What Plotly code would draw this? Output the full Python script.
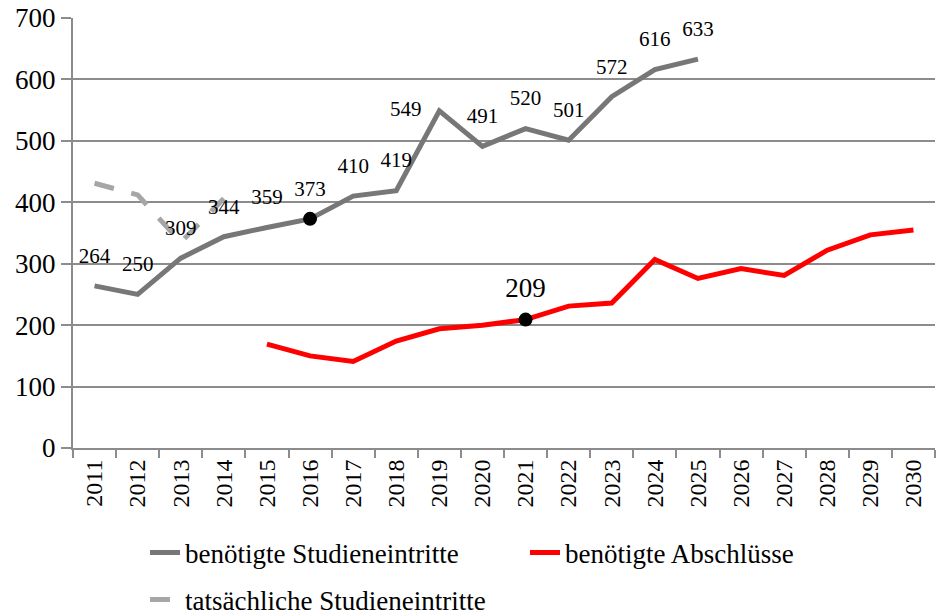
import plotly.graph_objects as go

years = [str(y) for y in range(2011, 2031)]

# benötigte Studieneintritte (2011-2025)
eintritte_years = [str(y) for y in range(2011, 2026)]
eintritte = [264, 250, 309, 344, 359, 373, 410, 419, 549, 491, 520, 501, 572, 616, 633]
eintritte_pos = ["top center"] * 8 + ["middle left"] + ["top center"] * 6

# benötigte Abschlüsse (2015-2030)
abschl_years = [str(y) for y in range(2015, 2031)]
abschluesse = [169, 150, 141, 174, 194, 200, 209, 231, 236, 307, 276, 292, 281, 322, 347, 355]
abschl_labels = ["" if y != "2021" else "209" for y in abschl_years]

# tatsächliche Studieneintritte (2011-2014)
tats_years = ["2011", "2012", "2013", "2014"]
tatsaechlich = [431, 412, 335, 406]

# highlighted points
hl_years = ["2016", "2021"]
hl_values = [373, 209]

FONT = "Liberation Serif, Times New Roman, serif"
GRAY = "#777777"
LIGHT = "#a6a6a6"
RED = "#ff0000"
AXIS = "#8c8c8c"

fig = go.Figure()

fig.add_trace(go.Scatter(
    x=tats_years, y=tatsaechlich, mode="lines",
    name="tatsächliche Studieneintritte",
    line=dict(color=LIGHT, width=5, dash="20px,18px"),
    legend="legend2",
))

fig.add_trace(go.Scatter(
    x=eintritte_years, y=eintritte, mode="lines+markers+text",
    name="benötigte Studieneintritte",
    line=dict(color=GRAY, width=5),
    marker=dict(size=27, color="rgba(0,0,0,0)"),
    text=[str(v) for v in eintritte], textposition=eintritte_pos,
    textfont=dict(family=FONT, size=21, color="black"),
    legend="legend",
))

fig.add_trace(go.Scatter(
    x=abschl_years, y=abschluesse, mode="lines+markers+text",
    name="benötigte Abschlüsse",
    line=dict(color=RED, width=5),
    marker=dict(size=23, color="rgba(0,0,0,0)"),
    text=abschl_labels, textposition="top center",
    textfont=dict(family=FONT, size=27, color="black"),
    legend="legend",
))

fig.add_trace(go.Scatter(
    x=hl_years, y=hl_values, mode="markers",
    marker=dict(size=14, color="black"),
    showlegend=False, hoverinfo="skip",
))

fig.update_layout(
    width=936, height=615,
    margin=dict(l=73, r=1, t=18, b=167, autoexpand=False),
    paper_bgcolor="white", plot_bgcolor="white",
    font=dict(family=FONT, color="black"),
    xaxis=dict(
        type="category", categoryorder="array", categoryarray=years,
        range=[-0.5, 19.5], automargin=False,
        showgrid=False, showline=True, linecolor=AXIS, linewidth=2,
        ticks="outside", tickson="boundaries", ticklen=8, tickcolor=AXIS, tickwidth=2,
        tickangle=-90, tickfont=dict(family=FONT, size=24, color="black"),
    ),
    yaxis=dict(
        range=[0, 700], tickvals=[0, 100, 200, 300, 400, 500, 600, 700],
        automargin=False,
        showgrid=True, gridcolor=AXIS, gridwidth=2,
        showline=True, linecolor=AXIS, linewidth=2,
        ticks="outside", ticklen=10, tickcolor=AXIS, tickwidth=2,
        tickfont=dict(family=FONT, size=27, color="black"),
        ticklabeloverflow="allow",
        zeroline=False,
    ),
    legend=dict(
        orientation="h", xref="container", yref="container",
        x=0.1549, y=0.1008, xanchor="left", yanchor="middle",
        font=dict(family=FONT, size=27, color="black"),
        entrywidth=335, entrywidthmode="pixels",
        bgcolor="rgba(0,0,0,0)",
    ),
    legend2=dict(
        orientation="h", xref="container", yref="container",
        x=0.1549, y=0.0244, xanchor="left", yanchor="middle",
        font=dict(family=FONT, size=27, color="black"),
        bgcolor="rgba(0,0,0,0)",
    ),
)

fig.write_html(
    "out.html",
    config={"displayModeBar": False},
    post_script="document.body.style.margin='0';",
)
